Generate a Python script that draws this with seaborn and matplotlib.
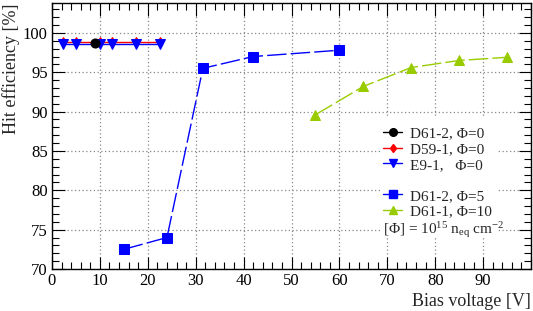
import matplotlib
matplotlib.use("Agg")
import matplotlib.pyplot as plt
import seaborn as sns
import numpy as np
import pandas as pd
from matplotlib.lines import Line2D
from matplotlib.patches import Rectangle
from matplotlib.ticker import MultipleLocator, FuncFormatter

# ---- data ----
d612_phi0_x = [9.0]
d612_phi0_y = [98.7]

d591_phi0_x = [2.3, 5.0, 10.0, 12.5, 17.5, 22.5]
d591_phi0_y = [98.85, 98.85, 98.85, 98.85, 98.85, 98.85]

e91_phi0_x = [2.3, 5.0, 10.0, 12.5, 17.5, 22.5]
e91_phi0_y = [98.55, 98.55, 98.55, 98.55, 98.55, 98.55]

d612_phi5_x = [15.0, 24.0, 31.5, 42.0, 60.0]
d612_phi5_y = [72.5, 74.0, 95.5, 97.0, 97.8]

d611_phi10_x = [55.0, 65.0, 75.0, 85.0, 95.0]
d611_phi10_y = [89.6, 93.2, 95.6, 96.5, 96.9]

labels = ["D61-2, Φ=0", "D59-1, Φ=0", "E9-1,   Φ=0", "D61-2, Φ=5", "D61-1, Φ=10"]
x_label = "Bias voltage [V]"
y_label = "Hit efficiency [%]"
fluence_note = r"[Φ] = 10$^{15}$ n$_{\rm eq}$ cm$^{-2}$"

# ---- style ----
sns.set_style("ticks")
plt.rcParams["font.family"] = ["Liberation Serif", "DejaVu Serif"]
plt.rcParams["mathtext.fontset"] = "custom"
plt.rcParams["mathtext.rm"] = "Liberation Serif"
plt.rcParams["mathtext.it"] = "Liberation Serif:italic"

GREEN = "#99cc00"

fig = plt.figure(figsize=(5.33, 3.11), dpi=100)
ax = fig.add_axes([52 / 533, 42 / 311, 479 / 533, 266 / 311])

ax.set_xlim(0, 100)
ax.set_ylim(70, 103.8)

# grid
ax.xaxis.set_major_locator(MultipleLocator(10))
ax.xaxis.set_minor_locator(MultipleLocator(2))
ax.yaxis.set_major_locator(MultipleLocator(5))
ax.yaxis.set_minor_locator(MultipleLocator(1))
ax.xaxis.set_major_formatter(FuncFormatter(lambda v, p: "" if v >= 99.5 else f"{v:.0f}"))
ax.grid(True, which="major", linestyle=(0, (1, 2)), color="#888888", linewidth=0.9, zorder=0)
ax.set_axisbelow(True)

# white box behind legend (hides grid)
ax.add_patch(Rectangle((0.685, 0.12), 0.245, 0.45, transform=ax.transAxes,
                       facecolor="white", edgecolor="none", zorder=1))

# series
sns.lineplot(x=d591_phi0_x, y=d591_phi0_y, ax=ax, color="red", marker="d", markersize=5.5,
             markeredgecolor="red", linewidth=1.0, zorder=3, sort=False, estimator=None)
sns.lineplot(x=e91_phi0_x, y=e91_phi0_y, ax=ax, color="blue", marker="v", markersize=6.5,
             markeredgecolor="blue", linewidth=1.0, zorder=3, sort=False, estimator=None)
sns.lineplot(x=d612_phi0_x, y=d612_phi0_y, ax=ax, color="black", marker="o", markersize=6.5,
             markeredgecolor="black", linewidth=1.0, zorder=4, sort=False, estimator=None)
sns.lineplot(x=d612_phi5_x, y=d612_phi5_y, ax=ax, color="blue", marker="s", markersize=6.5,
             markeredgecolor="blue", linewidth=1.0, linestyle=(0, (14, 3)), zorder=3,
             sort=False, estimator=None)
sns.lineplot(x=d611_phi10_x, y=d611_phi10_y, ax=ax, color=GREEN, marker="^", markersize=6.5,
             markeredgecolor=GREEN, linewidth=1.0, linestyle=(0, (14, 3)), zorder=3,
             sort=False, estimator=None)

# ticks
ax.tick_params(which="both", direction="in", top=True, right=True, labelsize=12, pad=3,
               colors="black")
ax.tick_params(which="major", length=9, width=0.8)
ax.tick_params(which="minor", length=5, width=0.8)
for s in ax.spines.values():
    s.set_linewidth(1.0)
    s.set_color("black")

ax.set_xlabel(x_label, fontsize=13, loc="right", labelpad=3)
ax.set_ylabel(y_label, fontsize=13, loc="top", labelpad=2)

# legend
handles = [
    Line2D([], [], color="black", marker="o", markersize=5.5, linewidth=1.0),
    Line2D([], [], color="red", marker="d", markersize=4.5, linewidth=1.0),
    Line2D([], [], color="blue", marker="v", markersize=5.5, linewidth=1.0),
    Line2D([], [], color="none"),
    Line2D([], [], color="blue", marker="s", markersize=5.5, linewidth=1.0),
    Line2D([], [], color=GREEN, marker="^", markersize=5.5, linewidth=1.0),
]
leg_labels = [labels[0], labels[1], labels[2], " ", labels[3], labels[4]]
ax.legend(handles, leg_labels, loc="upper left", bbox_to_anchor=(0.691, 0.534),
          frameon=False, fontsize=11, handlelength=1.25, handletextpad=0.55,
          labelspacing=0.12, borderpad=0, borderaxespad=0)
ax.text(0.691, 0.148, fluence_note, transform=ax.transAxes, fontsize=11,
        ha="left", va="center", zorder=5)

fig.savefig("out.png", dpi=100)
